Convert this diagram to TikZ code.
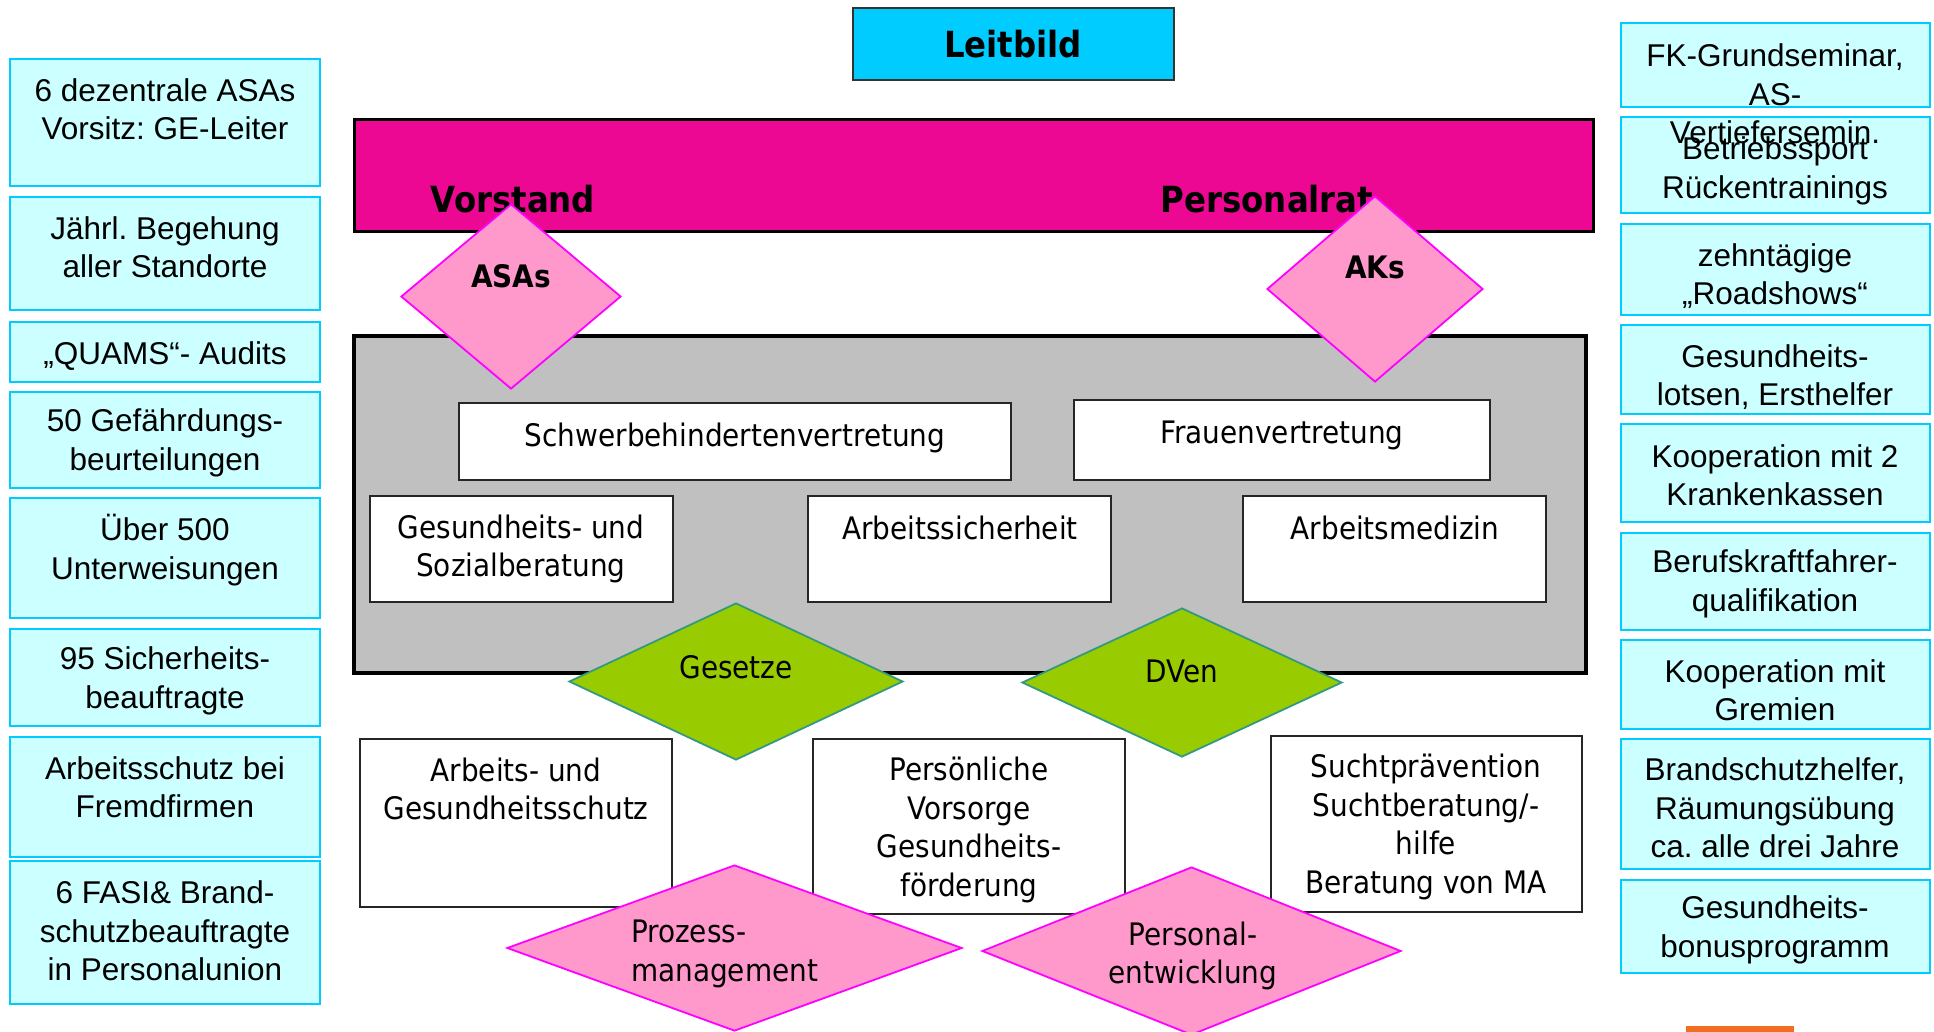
\documentclass[tikz,border=0pt]{standalone}
\usepackage{fontspec}
\setmainfont{Liberation Sans}
\newfontfamily\tahoma{DejaVu Sans Condensed}
\usetikzlibrary{shapes.geometric}
\frenchspacing
\definecolor{sidefill}{HTML}{CCFFFF}
\definecolor{sideline}{HTML}{00CCFF}
\definecolor{leitcyan}{HTML}{00CCFF}
\definecolor{barmag}{RGB}{236,8,146}
\definecolor{diapink}{HTML}{FF99CC}
\definecolor{dialine}{HTML}{FF00FF}
\definecolor{diagreen}{HTML}{99CC00}
\definecolor{greenline}{HTML}{339980}
\definecolor{panelgrey}{HTML}{C0C0C0}
\definecolor{orangebit}{RGB}{242,110,34}

\begin{document}
\begin{tikzpicture}[x=1pt,y=-1pt,
  sidebox/.style={fill=sidefill,draw=sideline,line width=2.5pt},
  sidetext/.style={font=\fontsize{31.5}{38.5}\selectfont,align=center,inner sep=0pt},
  whitebox/.style={fill=white,draw=black!85,line width=2.5pt},
  boxtext/.style={font=\tahoma\fontsize{31}{38.5}\selectfont,align=center,inner sep=0pt},
  headtext/.style={font=\tahoma\bfseries\fontsize{36}{40}\selectfont,inner sep=0pt},
  diatext/.style={font=\tahoma\bfseries\fontsize{31}{36}\selectfont,inner sep=0pt},
  pinkdia/.style={diamond,fill=diapink,draw=dialine,line width=1.8pt,inner sep=0pt},
  greendia/.style={diamond,fill=diagreen,draw=greenline,line width=1.8pt,inner sep=0pt}]
\useasboundingbox (0,0) rectangle (1934,1031);

% left column
\draw[sidebox] (10,59) rectangle (320,186);
\node[sidetext] (asa6) at (165,109) {6 dezentrale ASAs\\Vorsitz: GE-Leiter};
\draw[sidebox] (10,197) rectangle (320,310);
\node[sidetext] (begehung) at (165,247) {Jährl. Begehung\\aller Standorte};
\draw[sidebox] (10,322) rectangle (320,382);
\node[sidetext,anchor=base] (quams) at (165,364) {„QUAMS“- Audits};
\draw[sidebox] (10,392) rectangle (320,488);
\node[sidetext] (gefaehrdung) at (165,443) {50 Gefährdungs-\\beurteilungen};
\draw[sidebox] (10,498) rectangle (320,618);
\node[sidetext] (unterweis) at (165,550) {Über 500\\Unterweisungen};
\draw[sidebox] (10,629) rectangle (320,726);
\node[sidetext] (sicherheit) at (165,681) {95 Sicherheits-\\beauftragte};
\draw[sidebox] (10,737) rectangle (320,857);
\node[sidetext] (fremdfirmen) at (165,787) {Arbeitsschutz bei\\Fremdfirmen};
\draw[sidebox] (10,861) rectangle (320,1004);
\node[sidetext] (fasi) at (165,931) {6 FASI\& Brand-\\schutzbeauftragte\\in Personalunion};

% top
\draw[fill=leitcyan,draw=black!80,line width=2.5pt] (853,8) rectangle (1174,80);
\node[headtext,anchor=base] (leitbild) at (1013,57) {Leitbild};
\draw[fill=barmag,draw=black,line width=3pt] (354,119) rectangle (1593,231);
\node[headtext,anchor=base] (vorstand) at (513,212) {Vorstand};
\node[headtext,anchor=base] (personalrat) at (1267,212) {Personalrat};

% grey panel
\draw[fill=panelgrey,draw=black,line width=4pt] (354,336) rectangle (1586,673);

\node[pinkdia,minimum width=220pt,minimum height=185pt] (asas) at (511,296.5) {};
\node[diatext,anchor=base] (asastxt) at (511,287) {ASAs};
\node[pinkdia,minimum width=216pt,minimum height=186pt] (aks) at (1375,289) {};
\node[diatext,anchor=base] (akstxt) at (1375,278) {AKs};

\draw[whitebox] (459,403) rectangle (1011,480);
\node[boxtext,anchor=base] (schwer) at (735,446) {Schwerbehindertenvertretung};
\draw[whitebox] (1074,400) rectangle (1490,480);
\node[boxtext,anchor=base] (frauen) at (1282,443) {Frauenvertretung};
\draw[whitebox] (370,496) rectangle (673,602);
\node[boxtext] (sozial) at (521,549) {Gesundheits- und\\Sozialberatung};
\draw[whitebox] (808,496) rectangle (1111,602);
\node[boxtext,anchor=base] (arbsi) at (960,539) {Arbeitssicherheit};
\draw[whitebox] (1243,496) rectangle (1546,602);
\node[boxtext,anchor=base] (arbmed) at (1395,539) {Arbeitsmedizin};

\node[greendia,minimum width=334pt,minimum height=157pt] (gesetze) at (736,681.5) {};
\node[boxtext,anchor=base] (gesetzetxt) at (736,678) {Gesetze};
\node[greendia,minimum width=320pt,minimum height=149pt] (dven) at (1182,682.5) {};
\node[boxtext,anchor=base] (dventxt) at (1182,682) {DVen};

% bottom row
\draw[whitebox] (360,739) rectangle (672,907);
\node[boxtext] (arbges) at (516,789) {Arbeits- und\\Gesundheitsschutz};
\draw[whitebox] (813,739) rectangle (1125,914);
\node[boxtext] (vorsorge) at (969,830) {Persönliche\\Vorsorge\\Gesundheits-\\förderung};
\draw[whitebox] (1271,736) rectangle (1582,912);
\node[boxtext] (sucht) at (1426,827) {Suchtprävention\\Suchtberatung/-\\hilfe\\Beratung von MA};

\node[pinkdia,minimum width=455pt,minimum height=166pt] (prozess) at (734.5,948) {};
\node[boxtext,align=left,anchor=west] (prozesstxt) at (631,954) {Prozess-\\management};
\node[pinkdia,minimum width=419pt,minimum height=168pt] (personal) at (1191.5,951) {};
\node[boxtext] (personaltxt) at (1193,956) {Personal-\\entwicklung};

% right column
\draw[sidebox] (1621,23) rectangle (1930,107);
\draw[sidebox] (1621,117) rectangle (1930,213);
\draw[sidebox] (1621,224) rectangle (1930,315);
\draw[sidebox] (1621,325) rectangle (1930,414);
\draw[sidebox] (1621,424) rectangle (1930,522);
\draw[sidebox] (1621,533) rectangle (1930,630);
\draw[sidebox] (1621,640) rectangle (1930,729);
\draw[sidebox] (1621,739) rectangle (1930,869);
\draw[sidebox] (1621,880) rectangle (1930,973);
\node[sidetext] (fkseminar) at (1775,94) {FK-Grundseminar,\\AS-\\Vertiefersemin.};
\node[sidetext] (sport) at (1775,171) {Betriebssport\\Rückentrainings};
\node[sidetext] (roadshows) at (1775,276) {zehntägige\\„Roadshows“};
\node[sidetext] (lotsen) at (1775,377) {Gesundheits-\\lotsen, Ersthelfer};
\node[sidetext] (kassen) at (1775,475) {Kooperation mit 2\\Krankenkassen};
\node[sidetext] (fahrer) at (1775,584) {Berufskraftfahrer-\\qualifikation};
\node[sidetext] (gremien) at (1775,690) {Kooperation mit\\Gremien};
\node[sidetext] (brandschutz) at (1775,808) {Brandschutzhelfer,\\Räumungsübung\\ca. alle drei Jahre};
\node[sidetext] (bonus) at (1775,930) {Gesundheits-\\bonusprogramm};

\fill[orangebit] (1686,1026) rectangle (1794,1036);

\end{tikzpicture}
\end{document}
